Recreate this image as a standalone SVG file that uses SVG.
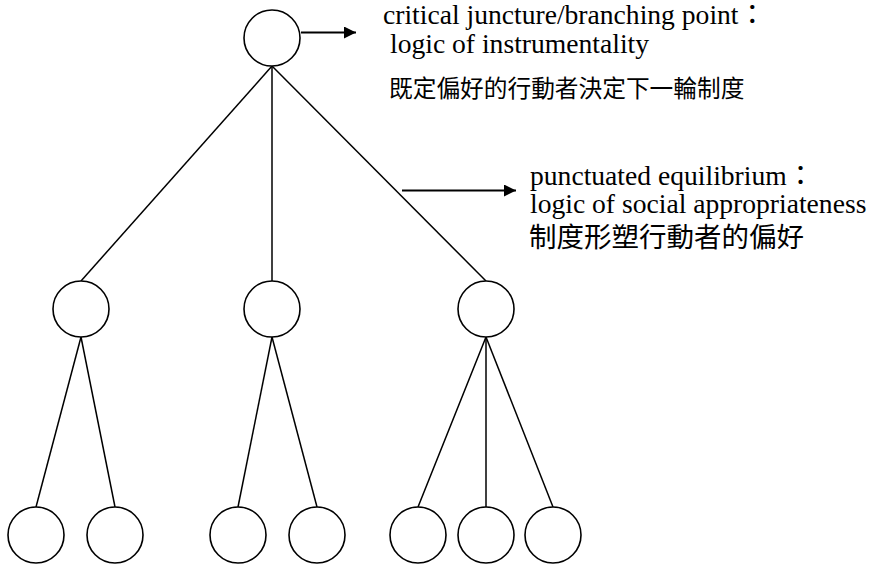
<svg xmlns="http://www.w3.org/2000/svg" width="873" height="567" viewBox="0 0 873 567">
<defs>
<style>
.node{fill:#fff;stroke:#000;stroke-width:1.6}
.edge{stroke:#000;stroke-width:1.5;fill:none}
.arrow{stroke:#000;stroke-width:2;fill:none}
.lat{font-family:"Liberation Serif","Noto Sans CJK TC",serif;font-size:27.6px;fill:#000}
.cjk{font-family:"Noto Sans CJK TC",sans-serif;fill:#000}
</style>
<marker id="ah" viewBox="0 0 12 12" refX="12" refY="6" markerWidth="12" markerHeight="12" markerUnits="userSpaceOnUse" orient="auto">
<path d="M0,0 L12,6 L0,12 Z" fill="#000"/>
</marker>
</defs>
<rect width="873" height="567" fill="#fff"/>
<g id="connectors">
<line class="edge" x1="272" y1="66" x2="81" y2="281"/>
<line class="edge" x1="272" y1="66" x2="272" y2="281"/>
<line class="edge" x1="272" y1="66" x2="486" y2="281"/>
<line class="edge" x1="81" y1="337" x2="36" y2="507"/>
<line class="edge" x1="81" y1="337" x2="115" y2="507"/>
<line class="edge" x1="272" y1="337" x2="238" y2="507"/>
<line class="edge" x1="272" y1="337" x2="317" y2="507"/>
<line class="edge" x1="486" y1="337" x2="418" y2="507"/>
<line class="edge" x1="486" y1="337" x2="486" y2="507"/>
<line class="edge" x1="486" y1="337" x2="553" y2="507"/>
<line class="arrow" x1="301" y1="32.5" x2="356" y2="32.5" marker-end="url(#ah)"/>
<line class="arrow" x1="402" y1="190.5" x2="516" y2="190.5" marker-end="url(#ah)"/>
</g>
<g id="root"><circle class="node" cx="272" cy="38" r="28"/></g>
<g id="m1"><circle class="node" cx="81" cy="309" r="28"/></g>
<g id="m2"><circle class="node" cx="272" cy="309" r="28"/></g>
<g id="m3"><circle class="node" cx="486" cy="309" r="28"/></g>
<g id="b1"><circle class="node" cx="36" cy="535" r="28"/></g>
<g id="b2"><circle class="node" cx="115" cy="535" r="28"/></g>
<g id="b3"><circle class="node" cx="238" cy="535" r="28"/></g>
<g id="b4"><circle class="node" cx="317" cy="535" r="28"/></g>
<g id="b5"><circle class="node" cx="418" cy="535" r="28"/></g>
<g id="b6"><circle class="node" cx="486" cy="535" r="28"/></g>
<g id="b7"><circle class="node" cx="553" cy="535" r="28"/></g>
<g id="label1">
<text class="lat" x="383" y="24">critical juncture/branching point：</text>
<text class="lat" x="390" y="53">logic of instrumentality</text>
<text class="cjk" x="389" y="97" font-size="23.7">既定偏好的行動者決定下一輪制度</text>
</g>
<g id="label2">
<text class="lat" x="530" y="185">punctuated equilibrium：</text>
<text class="lat" x="530" y="213">logic of social appropriateness</text>
<text class="cjk" x="529" y="247" font-size="27.5">制度形塑行動者的偏好</text>
</g>
</svg>
